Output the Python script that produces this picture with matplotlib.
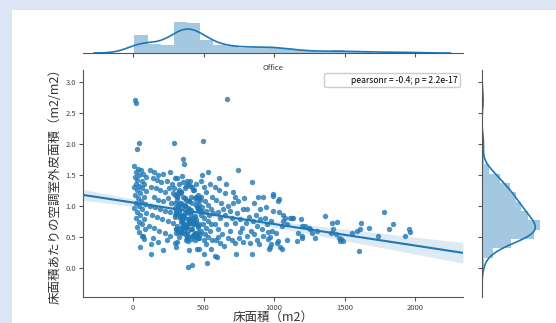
import numpy as np
import matplotlib
matplotlib.use("Agg")
import matplotlib.pyplot as plt
from matplotlib.patches import Rectangle
from matplotlib.lines import Line2D

plt.rcParams['font.family'] = ['Noto Sans CJK JP', 'DejaVu Sans']

# ---- data ----
floor_area = [
    15, 18, 40, 26, 10, 35, 55, 20, 70, 45, 15, 90, 30, 60, 20, 80, 40, 10, 65, 30, 95, 50, 15, 75,
    35, 55, 20, 85, 45, 10, 65, 30, 90, 50, 20, 75, 40, 60, 25, 85, 45, 70, 62, 80, 50, 128, 128,
    120, 150, 180, 215, 260, 291, 140, 170, 200, 240, 275, 130, 160, 190, 225, 255, 285, 145, 175, 210, 245, 270,
    120, 155, 190, 230, 265, 135, 170, 205, 250, 285, 115, 150, 185, 225, 260, 140, 215, 180, 240, 295,
    296, 338, 312, 452, 371, 347, 420, 389, 305,
    327, 463, 301, 398, 356, 441, 318, 379,
    344, 292, 408, 366, 475, 331, 386, 429, 309,
    383, 321, 456, 298, 412, 349, 437, 364, 470,
    357, 359, 402, 326, 467, 339, 391, 303, 448, 374, 416,
    352, 433, 314, 395, 361, 480, 336, 423, 307, 384,
    418, 300, 375, 446, 330, 404, 358, 465, 342, 393,
    310, 427, 368, 340, 458, 385, 297, 413, 352, 436, 392,
    445, 333, 397, 316, 474, 362, 426, 349, 380, 399,
    365, 448, 323, 411, 295, 387, 459, 337, 416,
    404, 341, 472, 318, 380, 431, 354, 302, 443,
    376, 313, 421, 459, 335, 397, 370, 451,
    328, 440, 366, 303, 418, 381, 462, 452,
    389, 355, 467, 324, 438, 408, 346, 466,
    311, 324, 337, 349, 362, 374, 387, 398, 410, 422, 436, 449, 461, 473, 306, 326, 348, 371, 386, 411,
    424, 438, 459, 345, 396,
    494, 480, 500, 520, 545, 560, 485, 510, 535, 555, 490, 515, 540, 565, 480, 505, 530, 550, 495, 520,
    545, 485, 510, 535, 560, 500, 527, 504, 520, 550, 490, 530,
    582, 594, 665, 660, 709, 652, 747, 842, 887, 922, 995, 995, 745, 711, 806, 842, 730, 972, 965, 991,
    590, 610, 625, 640, 600, 620, 650, 675, 690, 700, 580, 605, 630, 660, 685, 720, 740, 760, 780, 770,
    800, 820, 835, 850, 870, 880, 900, 915, 935, 950, 960, 975, 590, 615, 645, 600, 700, 720, 750, 780,
    830, 880, 890, 957, 980, 970, 985, 920, 860, 810, 760, 670, 940, 860, 790, 720, 610, 580, 900,
    1038, 1026, 1038, 1066, 1113, 1133, 1189, 1362, 1409, 1449, 1220, 1255, 1303, 1421, 1402, 1440,
    1460, 1475, 1490, 1468, 1551, 1586, 1617, 1610, 1676, 1740, 1782, 1846, 1816, 1929, 1960, 1965,
    1605, 1066, 1094, 1054, 1172, 1196, 1161, 1270, 1290, 1015, 1030, 1020, 1040, 1054, 1080, 1125,
    1196, 1250, 1196, 1090,
]
envelope_ratio = [
    2.71, 2.66, 2.02, 1.91, 1.64, 1.60, 1.58, 1.55, 1.52, 1.50, 1.46, 1.47, 1.42, 1.40, 1.36, 1.35,
    1.32, 1.30, 1.28, 1.25, 1.24, 1.20, 1.18, 1.15, 1.12, 1.08, 1.05, 1.03, 1.00, 0.97, 0.95, 0.90,
    0.88, 0.85, 0.80, 0.78, 0.74, 0.70, 0.66, 0.62, 0.57, 0.52, 0.51, 0.46, 0.34, 0.39, 0.23,
    1.58, 1.55, 1.50, 1.52, 1.55, 2.02, 1.45, 1.42, 1.38, 1.40, 1.35, 1.30, 1.28, 1.25, 1.22, 1.28, 1.20,
    1.15, 1.10, 1.08, 1.12, 1.05, 1.00, 0.98, 0.95, 0.92, 0.90, 0.85, 0.82, 0.78, 0.75, 0.72,
    0.68, 0.65, 0.60, 0.56, 0.52, 0.48, 0.29, 0.42, 0.45, 0.40,
    1.45, 1.22, 1.10, 0.98, 0.88, 0.75, 0.62, 0.50, 0.33,
    1.35, 1.18, 1.05, 0.95, 0.85, 0.70, 0.58, 0.45,
    1.48, 1.28, 1.15, 1.02, 0.92, 0.80, 0.68, 0.55, 0.42,
    1.40, 1.20, 1.08, 0.97, 0.90, 0.83, 0.72, 0.60, 0.48,
    1.75, 1.68, 1.32, 1.22, 1.12, 1.03, 0.96, 0.88, 0.78, 0.66, 0.52,
    1.38, 1.25, 1.15, 1.07, 1.00, 0.92, 0.84, 0.74, 0.62, 0.48,
    1.30, 1.18, 1.10, 1.02, 0.95, 0.87, 0.80, 0.70, 0.58, 0.44,
    1.45, 1.26, 1.13, 1.05, 0.97, 0.90, 0.82, 0.73, 0.64, 0.52, 0.01,
    1.35, 1.20, 1.08, 0.99, 0.91, 0.84, 0.76, 0.66, 0.55, 0.29,
    1.28, 1.14, 1.03, 0.94, 0.86, 0.78, 0.68, 0.58, 0.05,
    1.40, 1.22, 1.10, 1.00, 0.92, 0.82, 0.72, 0.62, 0.50,
    1.32, 1.16, 1.04, 0.95, 0.86, 0.76, 0.66, 0.55,
    1.25, 1.12, 1.00, 0.90, 0.80, 0.70, 0.58, 0.30,
    1.35, 1.15, 1.02, 0.92, 0.83, 0.73, 0.62, 0.30,
    0.68, 0.62, 0.74, 0.56, 0.70, 0.66, 0.60, 0.72, 0.62, 0.70, 0.56, 0.74, 0.66, 0.55, 0.56, 0.50, 0.64, 0.54, 0.49, 0.46,
    0.52, 0.45, 0.48, 0.78, 0.78,
    2.05, 1.40, 1.30, 1.22, 1.35, 1.15, 1.15, 1.08, 1.02, 0.95, 0.98, 0.92, 0.85, 0.88, 0.85, 0.80, 0.75, 0.70, 0.70, 0.65,
    0.60, 0.60, 0.55, 0.50, 0.45, 0.45, 0.08, 0.22, 0.38, 0.30, 1.50, 1.55,
    0.19, 0.17, 2.73, 1.35, 1.23, 1.20, 1.58, 1.39, 1.15, 1.14, 1.19, 1.16, 1.07, 1.04, 0.95, 0.22, 0.23, 0.34, 0.30, 0.91,
    1.10, 1.25, 1.05, 0.95, 0.90, 0.80, 0.85, 1.00, 0.92, 0.80, 0.70, 0.62, 0.55, 0.70, 0.60, 0.72, 0.88, 0.78, 0.95, 0.65,
    0.72, 0.82, 0.60, 0.75, 0.85, 0.68, 0.78, 0.62, 0.80, 0.70, 0.58, 0.75, 0.45, 0.40, 0.35, 0.50, 0.45, 0.40, 0.48, 0.42,
    0.40, 0.45, 0.38, 0.46, 0.38, 0.50, 0.60, 0.52, 0.55, 0.52, 0.58, 0.48, 0.98, 1.05, 1.12, 1.15, 1.45, 1.30, 0.95,
    1.11, 1.07, 0.90, 0.86, 0.81, 0.81, 0.79, 0.83, 0.73, 0.74, 0.67, 0.63, 0.59, 0.62, 0.56, 0.54,
    0.48, 0.46, 0.44, 0.43, 0.56, 0.59, 0.73, 0.62, 0.65, 0.51, 0.90, 0.70, 0.62, 0.51, 0.63, 0.57,
    0.27, 0.75, 0.70, 0.67, 0.56, 0.51, 0.43, 0.56, 0.48, 0.56, 0.43, 0.40, 0.33, 0.30, 0.80, 0.80,
    0.67, 0.65, 0.48, 0.45,
]

x_label = '床面積（m2）'
y_label = '床面積あたりの空調室外皮面積（m2/m2）'
marg_label = 'Office'
stat_text = 'pearsonr = -0.4; p = 2.2e-17'
x_ticks = [0, 500, 1000, 1500, 2000]
y_ticks = [0.0, 0.5, 1.0, 1.5, 2.0, 2.5, 3.0]

BLUE = '#1f77b4'
SPINE = '#555555'
W, H = 556, 323

x = np.asarray(floor_area, float)
y = np.asarray(envelope_ratio, float)
n = min(len(x), len(y))
x, y = x[:n], y[:n]

fig = plt.figure(figsize=(W / 100, H / 100), dpi=100)
fig.patch.set_facecolor('#dce5f3')
fig.add_artist(Rectangle((12 / W, 0), 1, (H - 10) / H, transform=fig.transFigure,
                         facecolor='white', edgecolor='none', zorder=-1))

ax = fig.add_axes([83 / W, 26 / H, 380 / W, 227 / H])
axx = fig.add_axes([83 / W, 270 / H, 380 / W, 32.5 / H])
axy = fig.add_axes([482 / W, 26 / H, 61 / W, 227 / H])

XLIM = (-355, 2340)
YLIM = (-0.47, 3.19)
ax.set_xlim(*XLIM)
ax.set_ylim(*YLIM)

# scatter
ax.scatter(x, y, s=15, color=BLUE, alpha=0.8, linewidths=0, zorder=3)

# regression line + 95% CI
slope, intercept = np.polyfit(x, y, 1)
xs = np.linspace(XLIM[0], XLIM[1], 200)
yhat = intercept + slope * xs
resid = y - (intercept + slope * x)
s_err = np.sqrt(np.sum(resid ** 2) / (n - 2))
xbar = x.mean()
sxx = np.sum((x - xbar) ** 2)
se = s_err * np.sqrt(1.0 / n + (xs - xbar) ** 2 / sxx)
ax.fill_between(xs, yhat - 1.96 * se, yhat + 1.96 * se, color=BLUE, alpha=0.15, linewidth=0, zorder=2)
ax.plot(xs, yhat, color=BLUE, lw=1.5, zorder=4)

ax.legend([Line2D([], [], linestyle='none')], [stat_text], loc='upper right', fontsize=6.2,
          frameon=True, fancybox=True, framealpha=1, edgecolor='#cccccc', handlelength=2.0,
          borderpad=0.3, borderaxespad=0.35)

for side in ('top', 'right'):
    ax.spines[side].set_visible(False)
for side in ('left', 'bottom'):
    ax.spines[side].set_color(SPINE)
    ax.spines[side].set_linewidth(0.8)
ax.set_xticks(x_ticks)
ax.set_yticks(y_ticks)
ax.set_yticklabels([f'{v:.1f}' for v in y_ticks])
ax.tick_params(length=3, width=0.8, color=SPINE, labelsize=5.5, labelcolor='#444444', pad=2)
ax.set_xlabel(x_label, fontsize=9, labelpad=-0.5, color='#333333')
ax.set_ylabel(y_label, fontsize=9, labelpad=3, color='#333333')


def kde(v):
    m = len(v)
    sd = v.std(ddof=1)
    q75, q25 = np.percentile(v, [75, 25])
    bw = 1.059 * min(sd, (q75 - q25) / 1.349) * m ** (-0.2)
    grid = np.linspace(v.min() - 3 * bw, v.max() + 3 * bw, 400)
    dens = np.exp(-0.5 * ((grid[:, None] - v[None, :]) / bw) ** 2).sum(1) / (m * bw * np.sqrt(2 * np.pi))
    return grid, dens


# top marginal
hx, ex, _ = axx.hist(x, bins=21, density=True, color=BLUE, alpha=0.4, linewidth=0)
gx, dx = kde(x)
axx.plot(gx, dx, color=BLUE, lw=1.2)
axx.set_xlim(*XLIM)
axx.set_ylim(0, max(hx.max(), dx.max()) * 1.05)
for side in ('top', 'right', 'left'):
    axx.spines[side].set_visible(False)
axx.spines['bottom'].set_color(SPINE)
axx.spines['bottom'].set_linewidth(0.8)
axx.set_xticks(x_ticks)
axx.set_xticklabels([])
axx.set_yticks([])
axx.tick_params(axis='x', length=3, width=0.8, color=SPINE)
axx.set_xlabel(marg_label, fontsize=5.5, labelpad=1.5, color='#333333')
axx.patch.set_alpha(0)

# right marginal
hy, ey, _ = axy.hist(y, bins=18, density=True, orientation='horizontal', color=BLUE, alpha=0.4, linewidth=0)
gy, dy = kde(y)
axy.plot(dy, gy, color=BLUE, lw=1.2)
axy.set_ylim(*YLIM)
axy.set_xlim(0, max(hy.max(), dy.max()) * 1.05)
for side in ('top', 'right', 'bottom'):
    axy.spines[side].set_visible(False)
axy.spines['left'].set_color(SPINE)
axy.spines['left'].set_linewidth(0.8)
axy.set_yticks(y_ticks)
axy.set_yticklabels([])
axy.set_xticks([])
axy.tick_params(axis='y', length=3, width=0.8, color=SPINE)
axy.patch.set_alpha(0)

fig.savefig('out.png', dpi=100, facecolor=fig.get_facecolor())
